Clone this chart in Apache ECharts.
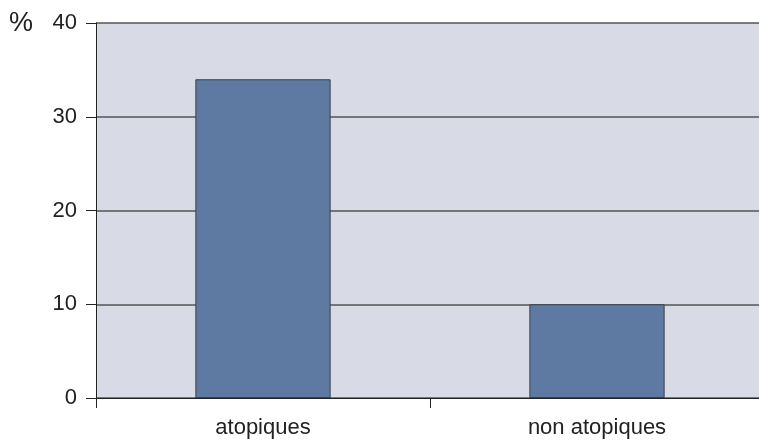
<!DOCTYPE html>
<html><head><meta charset="utf-8">
<script src="https://cdn.jsdelivr.net/npm/echarts@6/dist/echarts.min.js"></script>
<style>html,body{margin:0;padding:0;background:#fff;overflow:hidden;width:759px;height:441px}#c{width:764px;height:441px}</style>
</head><body><div id="c"></div>
<script>
const categories = ['atopiques', 'non atopiques'];
const values = [34, 10];
const yTicks = [0, 10, 20, 30, 40];
const unitLabel = '%';

const chart = echarts.init(document.getElementById('c'), null, {renderer: 'canvas'});
chart.setOption({
  animation: false,
  backgroundColor: '#ffffff',
  textStyle: {fontFamily: 'Liberation Sans, Arial, sans-serif'},
  grid: {left: 96, top: 23, bottom: 43, right: 0, show: true, backgroundColor: '#d8dae6', borderWidth: 0},
  graphic: [{type: 'text', left: 9, top: 10, style: {text: unitLabel, font: '27px "Liberation Sans", Arial, sans-serif', fill: '#222'}}],
  xAxis: {
    type: 'category', data: categories, boundaryGap: true,
    axisLine: {lineStyle: {color: '#222', width: 1}},
    axisTick: {show: true, length: 10, alignWithLabel: false, lineStyle: {color: '#222'}},
    axisLabel: {color: '#222', fontSize: 22, margin: 19}
  },
  yAxis: {
    type: 'value', min: yTicks[0], max: yTicks[yTicks.length - 1], interval: 10,
    axisLine: {show: true, lineStyle: {color: '#222', width: 1}},
    axisTick: {show: true, length: 10, lineStyle: {color: '#222'}},
    axisLabel: {color: '#222', fontSize: 22, margin: 19},
    splitLine: {show: true, lineStyle: {color: '#555', width: 1.5}}
  },
  series: [{
    type: 'bar', data: values, barWidth: '40.5%',
    itemStyle: {color: '#5e7aa2', borderColor: '#3a3f4a', borderWidth: 1}
  }]
});
</script></body></html>
